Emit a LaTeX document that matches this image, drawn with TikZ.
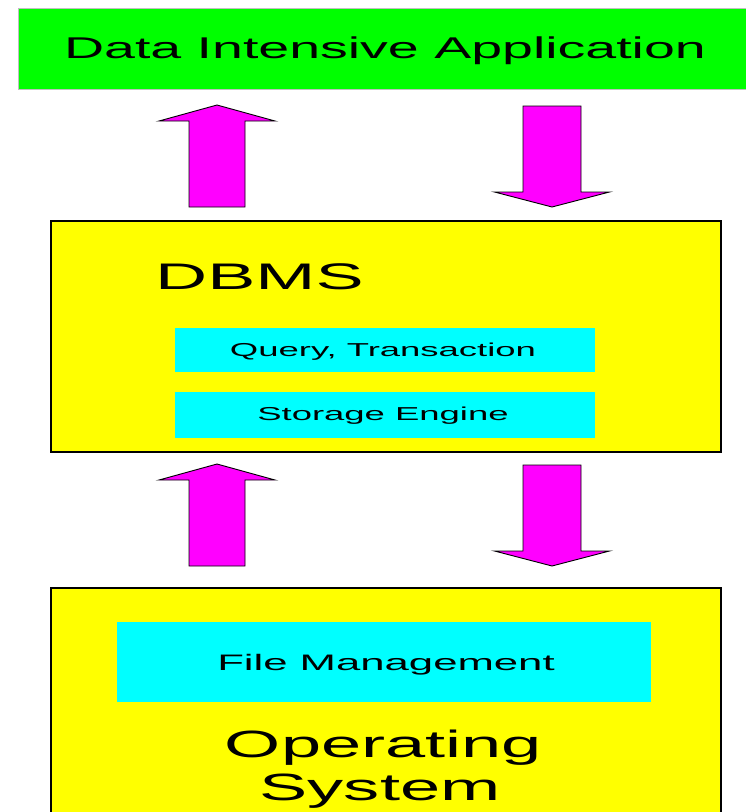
\documentclass[tikz,border=0pt]{standalone}
\usepackage{fontspec}
\setmainfont{Liberation Sans}
\usepackage{graphicx}

% horizontally widened lettering
\newcommand\stretchtext[2][1.95]{\scalebox{#1}[1]{#2}}
\newcommand\fsz[1]{\fontsize{#1}{#1}\selectfont}

\definecolor{appgreen}{RGB}{0,255,0}
\definecolor{layeryellow}{RGB}{255,255,0}
\definecolor{partcyan}{RGB}{0,255,255}
\definecolor{flowmagenta}{RGB}{255,0,255}

\tikzset{
  layerbox/.style={draw=black, line width=1.5pt, fill=layeryellow,
    anchor=north west, inner sep=0pt},
  partbox/.style={fill=partcyan, draw=none, anchor=north west, inner sep=0pt},
  label/.style={inner sep=0pt, anchor=base, text=black},
  fatarrow/.style={fill=flowmagenta, draw=black, line width=0.9pt, line join=miter},
  pics/uparrow/.style={code={
    \path[fatarrow] (0,0) -- (58,16) -- (28,16) -- (28,102) -- (-28,102)
      -- (-28,16) -- (-58,16) -- cycle;}},
  pics/downarrow/.style={code={
    \path[fatarrow] (0,0) -- (57.5,-15) -- (29,-15) -- (29,-101) -- (-29,-101)
      -- (-29,-15) -- (-57.5,-15) -- cycle;}},
}

\begin{document}
\begin{tikzpicture}[x=1pt, y=-1pt]
  \useasboundingbox[fill=white] (0,0) rectangle (746,812);

  % application layer
  \node[fill=appgreen, draw=black!25, line width=0.6pt, anchor=north west,
    inner sep=0pt, minimum width=740pt, minimum height=81pt] (app) at (18,8) {};
  \node[label, font=\fsz{30}] (apptext) at (385,58.3)
    {\stretchtext[1.85]{Data Intensive Application}};

  % DBMS layer
  \node[layerbox, minimum width=670pt, minimum height=231pt] (dbms) at (50,220) {};
  \node[label, anchor=base west, font=\fsz{37}] (dbmstext) at (155,289.3)
    {\stretchtext{DBMS}};
  \node[partbox, minimum width=420pt, minimum height=44pt] (query) at (175,328) {};
  \node[label, font=\fsz{18.7}] (querytext) at (383,356.7)
    {\stretchtext{Query, Transaction}};
  \node[partbox, minimum width=420pt, minimum height=46pt] (storage) at (175,391.5) {};
  \node[label, font=\fsz{18.7}] (storagetext) at (383,420)
    {\stretchtext{Storage Engine}};

  % operating system layer
  \node[layerbox, minimum width=670pt, minimum height=240pt] (os) at (50,587) {};
  \node[partbox, minimum width=534pt, minimum height=80pt] (files) at (117,622) {};
  \node[label, font=\fsz{22.4}] (filestext) at (386,670.7)
    {\stretchtext{File Management}};
  \node[label, font=\fsz{38}] (ostext1) at (383.5,757.5)
    {\stretchtext[1.9]{Operating}};
  \node[label, font=\fsz{38}] (ostext2) at (380,800)
    {\stretchtext[1.9]{System}};

  % data flow between the layers
  \pic at (217,105) {uparrow};
  \pic at (552,207) {downarrow};
  \pic at (217,464) {uparrow};
  \pic at (552,566) {downarrow};
\end{tikzpicture}
\end{document}
